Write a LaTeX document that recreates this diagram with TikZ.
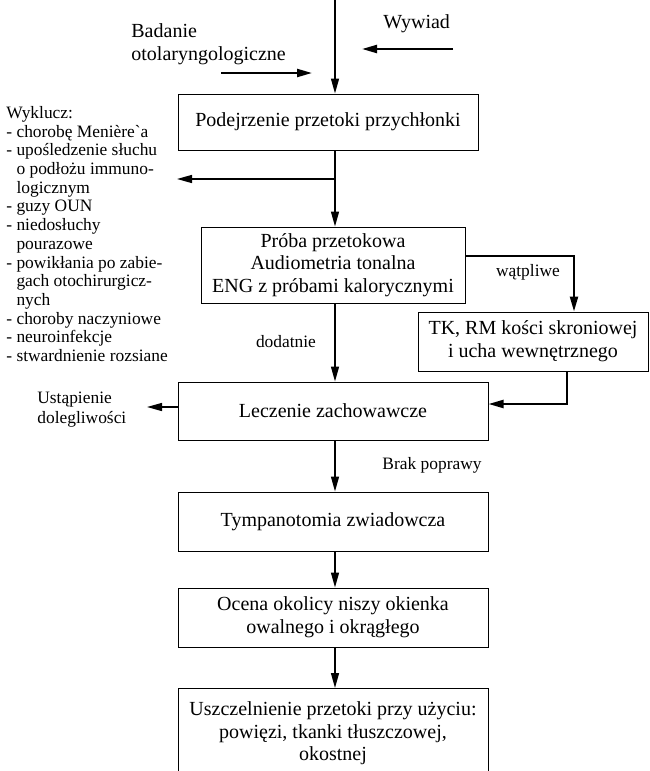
\documentclass[tikz,border=0pt]{standalone}
\usepackage{fontspec}
\setmainfont{Liberation Serif}
\newfontfamily\listfamily{Liberation Serif}
\usepackage{tikz}
\usetikzlibrary{arrows.meta}
\usetikzlibrary{positioning}

\begin{document}
\begin{tikzpicture}[x=0.5pt, y=-0.5pt,
	      box/.style={draw, line width=0.5pt, align=center, inner sep=2pt,
	        minimum width=155pt, font=\fontsize{10}{11.3}\selectfont},
	      flow/.style={line width=0.7pt, -{Triangle[length=7.5pt,width=4pt]}},
	      boldflow/.style={line width=1.1pt, -{Triangle[length=7.5pt,width=4pt]}},
	      lbl/.style={inner sep=0pt, align=left, font=\fontsize{8.7}{10}\selectfont},
	      toplbl/.style={inner sep=0pt, align=left, font=\fontsize{10}{11.5}\selectfont}]
\clip (0,0) rectangle (649,771);

\coordinate (top) at (335,-5);
\coordinate (split) at (335,179);
\node [box, minimum width=150pt, minimum height=28pt] (suspect) at (328,122) {Podejrzenie przetoki przychłonki};
\node [box, minimum width=132pt, minimum height=38pt] (tests) at (333,265)
      {Próba przetokowa\\Audiometria tonalna\\ENG z próbami kalorycznymi};
\node [box, minimum width=115pt, minimum height=29.5pt] (imaging) at (533,341.5)
      {TK, RM kości skroniowej\\i ucha wewnętrznego};
\node [box, minimum height=29pt] (treat) at (333,411) {Leczenie zachowawcze};
\node [box, minimum height=29.5pt] (explore) at (333,521.5) {Tympanotomia zwiadowcza};
\node [box, minimum height=29.5pt] (niche) at (333,617.5) {Ocena okolicy niszy okienka\\owalnego i okrągłego};
\node [box, minimum height=45pt, anchor=north] (seal) at (333,688)
      {Uszczelnienie przetoki przy użyciu:\\powięzi, tkanki tłuszczowej,\\okostnej};

% side labels
\node [toplbl, anchor=west] (ent) at (131,44) {Badanie\\otolaryngologiczne};
\node [toplbl, anchor=west] (history) at (383,24) {Wywiad};
\coordinate (ent a) at (221,73);
\coordinate (ent b) at (312,73);
\coordinate (history a) at (453,49);
\coordinate (history b) at (362,49);

\node [inner sep=0pt, anchor=north west, align=left,
       font=\listfamily\fontsize{8.7}{9.35}\selectfont] (exclude) at (6,106)
      {Wyklucz:\\- chorobę Menière`a\\- upośledzenie słuchu\\\phantom{- }o podłożu immuno-\\\phantom{- }logicznym\\- guzy OUN\\- niedosłuchy\\\phantom{- }pourazowe\\- powikłania po zabie-\\\phantom{- }gach otochirurgicz-\\\phantom{- }nych\\- choroby naczyniowe\\- neuroinfekcje\\- stwardnienie rozsiane};
\coordinate (exclude end) at (177,179);

\node [lbl] (doubt) at (528,272) {wątpliwe};
\coordinate (doubt turn) at (574,256);
\node [lbl] (positive) at (286,342) {dodatnie};
\coordinate (back turn) at (567,404);
\node [lbl, anchor=west] (relief) at (37,410) {Ustąpienie\\dolegliwości};
\coordinate (relief end) at (147,407);
\node [lbl] (nogain) at (432,465) {Brak poprawy};

\draw [flow] (top) -- (suspect.north -| top);
\draw [boldflow] (ent a) -- (ent b);
\draw [boldflow] (history a) -- (history b);
\draw [flow] (suspect.south -| top) -- (tests.north -| top);
\draw [flow] (split) -- (exclude end);
\draw [boldflow] (tests.east |- doubt turn) -- (doubt turn) -- (imaging.north -| doubt turn);
\draw [flow] (tests.south -| top) -- (treat.north -| top);
\draw [boldflow] (imaging.south -| back turn) -- (back turn) -- (treat.east |- back turn);
\draw [flow] (treat.west |- relief end) -- (relief end);
\draw [flow] (treat.south -| top) -- (explore.north -| top);
\draw [flow] (explore.south -| top) -- (niche.north -| top);
\draw [flow] (niche.south -| top) -- (seal.north -| top);
\end{tikzpicture}
\end{document}
